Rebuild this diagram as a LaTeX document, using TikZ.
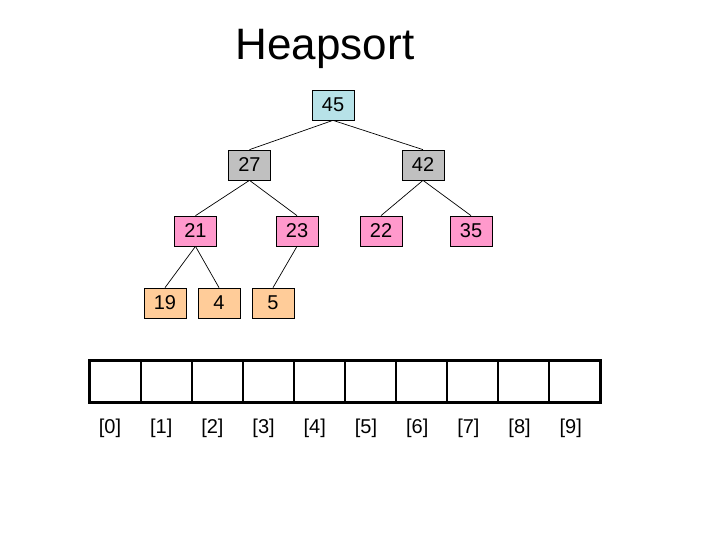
\documentclass[tikz,border=0pt]{standalone}
\usepackage{fontspec}
\setmainfont{Liberation Sans}
\usepackage{xcolor}
\definecolor{rootblue}{RGB}{183,226,232}
\definecolor{levelgray}{RGB}{192,192,192}
\definecolor{heappink}{RGB}{255,153,204}
\definecolor{leafpeach}{RGB}{255,204,153}
\usetikzlibrary{positioning}
\tikzset{
    heapnode/.style  = {rectangle, draw=black, line width=0.7pt,
                        minimum width=42pt, minimum height=30pt,
                        inner sep=0pt, font=\fontsize{20}{20}\selectfont},
    rootnode/.style  = {heapnode, fill=rootblue},
    graynode/.style  = {heapnode, fill=levelgray},
    pinknode/.style  = {heapnode, fill=heappink},
    peachnode/.style = {heapnode, fill=leafpeach},
    arraycell/.style = {rectangle, draw=black, line width=1.6pt,
                        minimum width=51pt, minimum height=41pt,
                        inner sep=0pt},
    idxlbl/.style    = {font=\fontsize{20}{20}\selectfont, inner sep=0pt},
    edge/.style      = {draw=black, line width=0.7pt}
}

\begin{document}
\begin{tikzpicture}[x=1pt, y=-1pt]

\useasboundingbox (0,0) rectangle (720,540);

% --- Title ---
\node (title) at (325,60) [anchor=base, font=\fontsize{44}{44}\selectfont] {Heapsort};

% --- Heap tree ---
\node[rootnode]  (n45) at (333,105)   {45};
\node[graynode]  (n27) at (249.5,165) {27};
\node[graynode]  (n42) at (423,165)   {42};
\node[pinknode]  (n21) at (195.5,231) {21};
\node[pinknode]  (n23) at (297,231)   {23};
\node[pinknode]  (n22) at (381,231)   {22};
\node[pinknode]  (n35) at (471,231)   {35};
\node[peachnode] (n19) at (165,303)   {19};
\node[peachnode] (n4)  at (219,303)   {4};
\node[peachnode] (n5)  at (273,303)   {5};

% --- Parent/child links ---
\foreach \src/\dst in
   {n45/n27, n45/n42, n27/n21, n27/n23, n42/n22, n42/n35,
    n21/n19, n21/n4, n23/n5}
   \draw[edge] (\src.south) -- (\dst.north);

% --- Array cells and indices ---
\foreach \i in {0,...,9} {
   \node[arraycell] (c\i) at (115.5+51*\i,381.5) {};
   \node[idxlbl]    (l\i) at (110+51.2*\i,428)   {[\i]};
}
\draw[line width=3pt] (c0.north west) rectangle (c9.south east);

\end{tikzpicture}
\end{document}
